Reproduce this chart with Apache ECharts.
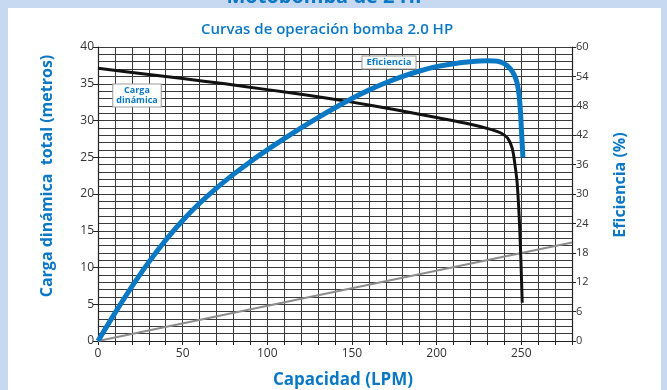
<!DOCTYPE html>
<html>
<head>
<meta charset="utf-8">
<script src="https://cdn.jsdelivr.net/npm/echarts@6/dist/echarts.min.js"></script>
<style>
  html, body { margin: 0; padding: 0; background: #c6d9f0; }
  #chart { width: 667px; height: 390px; }
</style>
</head>
<body>
<div id="chart"></div>
<script>
// Curva de carga dinámica total (metros) vs capacidad (LPM)
const headLpm = [0, 25, 50, 75, 100, 125, 150, 175, 200, 220, 232, 238, 242, 244.7, 246.3, 247.6, 248.8, 249.6, 250.6];
const headM   = [37.1, 36.4, 35.7, 35.0, 34.2, 33.4, 32.5, 31.5, 30.4, 29.5, 28.8, 28.3, 27.6, 26.2, 24.0, 21.5, 16.9, 12.4, 5.2];

// Curva de eficiencia (%) vs capacidad (LPM)
const effLpm = [0, 10, 20, 30, 40, 50, 60, 70, 80, 90, 100, 110, 120, 130, 140, 150, 160, 170, 180, 190, 200, 210, 220, 230, 236, 240, 243.5, 246, 247.6, 248.8, 249.6, 250.3, 251];
const effPct = [0, 5.7, 11.1, 16.1, 20.6, 24.6, 28.1, 31.2, 34.0, 36.6, 39.0, 41.3, 43.5, 45.6, 47.6, 49.5, 51.2, 52.7, 54.0, 55.1, 56.0, 56.6, 57.0, 57.2, 57.1, 56.6, 55.6, 54.2, 52.6, 50.0, 46.5, 42.0, 37.5];

// Recta de referencia (gris)
const refLpm = [0, 280];
const refM   = [0, 13.4];

// Escalas
const xTicks = [0, 50, 100, 150, 200, 250];
const leftTicks = [0, 5, 10, 15, 20, 25, 30, 35, 40];
const rightTicks = [0, 6, 12, 18, 24, 30, 36, 42, 48, 54, 60];

const pairs = (xs, ys) => xs.map((x, i) => [x, ys[i]]);

const BLUE = '#0b78c3';
const TXT = '#333333';
const GRID = '#3a3a3a';
const FONT = 'Open Sans';

const chart = echarts.init(document.getElementById('chart'), null, { renderer: 'canvas' });

chart.setOption({
  backgroundColor: '#c6d9f0',
  animation: false,
  textStyle: { fontFamily: FONT },
  graphic: [
    { type: 'rect', z: -10, shape: { x: 8, y: 8, width: 653, height: 390 }, style: { fill: '#ffffff' } },
    { type: 'text', z: -20, x: 327, y: 7.5,
      style: { text: 'Motobomba de 2 HP', fill: BLUE, font: 'bold 20px "Open Sans"',
               textAlign: 'center', textVerticalAlign: 'bottom' } },
    { type: 'text', x: 327, y: 30,
      style: { text: 'Curvas de operación bomba 2.0 HP', fill: BLUE, font: '600 15px "Open Sans"',
               textAlign: 'center', textVerticalAlign: 'middle' } },
    { type: 'text', x: 47, y: 176, rotation: Math.PI / 2,
      style: { text: 'Carga dinámica  total (metros)', fill: BLUE, font: 'bold 16px "Open Sans"',
               textAlign: 'center', textVerticalAlign: 'middle' } },
    { type: 'text', x: 620, y: 185, rotation: Math.PI / 2,
      style: { text: 'Eficiencia (%)', fill: BLUE, font: 'bold 16px "Open Sans"',
               textAlign: 'center', textVerticalAlign: 'middle' } },
    { type: 'text', x: 343, y: 380,
      style: { text: 'Capacidad (LPM)', fill: BLUE, font: 'bold 17px "Open Sans"',
               textAlign: 'center', textVerticalAlign: 'middle' } },
    { type: 'text', z: 20, x: 137, y: 95.5,
      style: { text: 'Carga\ndinámica', fill: BLUE, font: 'bold 9px "Open Sans"', lineHeight: 10,
               textAlign: 'center', textVerticalAlign: 'middle',
               backgroundColor: '#ffffff', borderColor: '#9a9a9a', borderWidth: 1, padding: [1, 3] } },
    { type: 'text', z: 20, x: 389, y: 62.5,
      style: { text: 'Eficiencia', fill: BLUE, font: 'bold 9.5px "Open Sans"',
               textAlign: 'center', textVerticalAlign: 'middle',
               backgroundColor: '#ffffff', borderColor: '#9a9a9a', borderWidth: 1, padding: [1, 4] } }
  ],
  grid: { left: 98, right: 95, top: 47, bottom: 49, containLabel: false },
  xAxis: {
    type: 'value', min: 0, max: 280, interval: 10,
    axisLine: { show: true, onZero: false, lineStyle: { color: '#222', width: 1.2 } },
    axisTick: { show: true, length: 4, lineStyle: { color: '#222' } },
    axisLabel: { color: TXT, fontSize: 12, margin: 7,
      formatter: v => xTicks.includes(v) ? String(v) : '' },
    splitLine: { show: true, lineStyle: { color: GRID, width: 1 } }
  },
  yAxis: [
    {
      type: 'value', min: 0, max: 40, interval: 5,
      axisLine: { show: true, lineStyle: { color: '#222', width: 1.2 } },
      axisTick: { show: true, length: 5, lineStyle: { color: '#222' } },
      axisLabel: { color: TXT, fontSize: 12, margin: 4,
        formatter: v => leftTicks.includes(v) ? String(v) : '' },
      splitLine: { show: true, lineStyle: { color: GRID, width: 1 } },
      minorTick: { show: false, splitNumber: 5 },
      minorSplitLine: { show: true, lineStyle: { color: GRID, width: 1 } }
    },
    {
      type: 'value', min: 0, max: 60, interval: 6, position: 'right',
      axisLine: { show: true, lineStyle: { color: '#222', width: 1.2 } },
      axisTick: { show: true, length: 4, lineStyle: { color: '#222' } },
      axisLabel: { color: TXT, fontSize: 11, margin: 4,
        formatter: v => rightTicks.includes(v) ? String(v) : '' },
      splitLine: { show: false }
    }
  ],
  series: [
    {
      name: 'Referencia', type: 'line', yAxisIndex: 0, z: 2,
      data: pairs(refLpm, refM), showSymbol: false,
      lineStyle: { color: '#8c8c8c', width: 2 }
    },
    {
      name: 'Carga dinámica', type: 'line', yAxisIndex: 0, z: 3,
      data: pairs(headLpm, headM), showSymbol: false, smooth: 0.3,
      lineStyle: { color: '#111111', width: 3 }
    },
    {
      name: 'Eficiencia', type: 'line', yAxisIndex: 1, z: 4,
      data: pairs(effLpm, effPct), showSymbol: false, smooth: 0.3,
      lineStyle: { color: BLUE, width: 5 }
    }
  ]
});
</script>
</body>
</html>
